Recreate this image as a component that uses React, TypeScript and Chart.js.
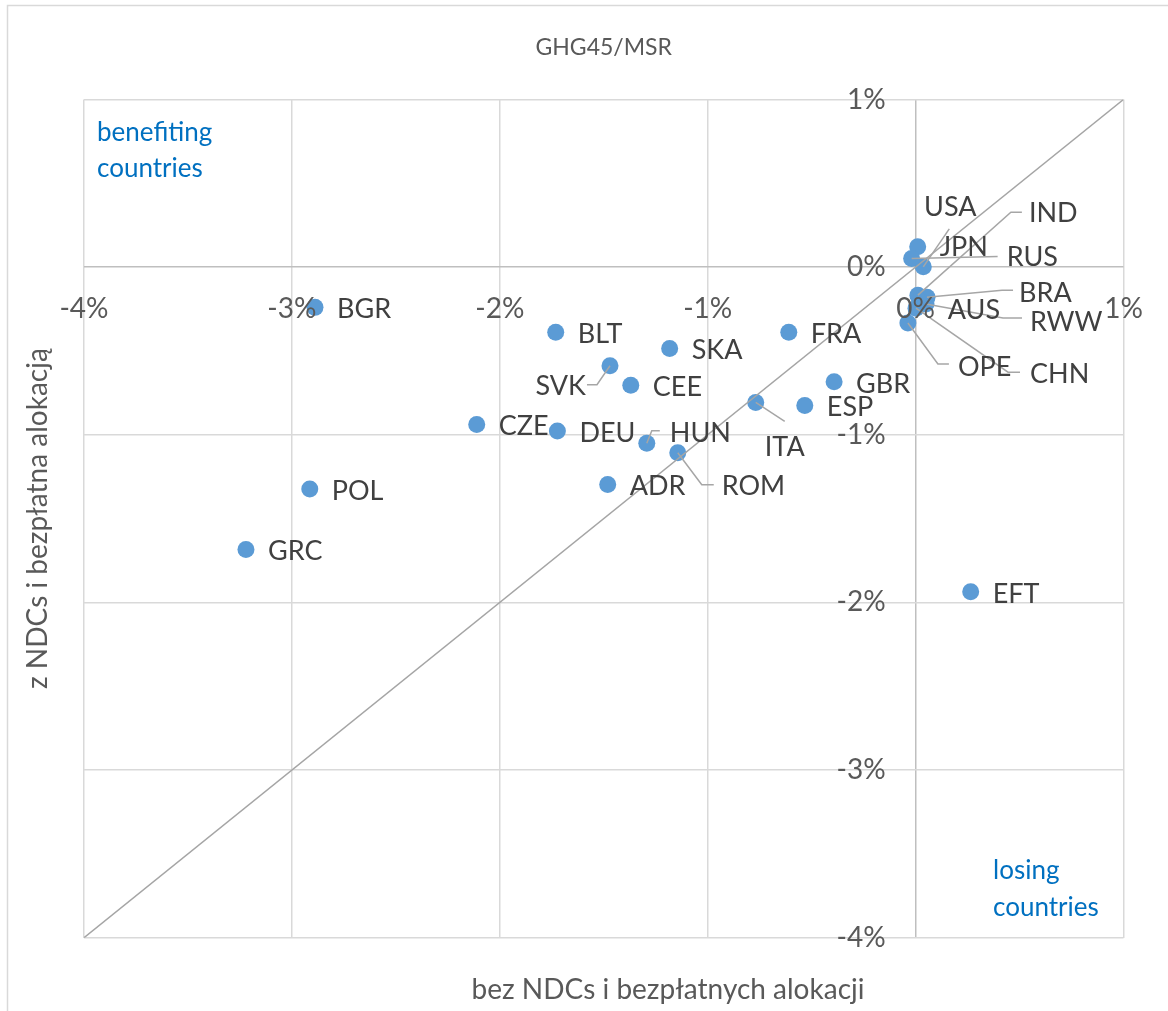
import React, { useEffect, useRef } from "react";
import { Chart, registerables } from "chart.js";

Chart.register(...registerables);

const chartTitle = "GHG45/MSR";
const xAxisTitle = "bez NDCs i bezpłatnych alokacji";
const yAxisTitle = "z NDCs i bezpłatna alokacją";
const benefitText = ["benefiting", "countries"];
const losingText = ["losing", "countries"];

const countries = [
  "BGR", "BLT", "SKA", "FRA", "SVK", "CEE", "GBR", "ITA", "ESP", "CZE", "DEU", "HUN", "ROM",
  "ADR", "POL", "GRC", "EFT", "USA", "JPN", "RUS", "IND", "BRA", "AUS", "RWW", "CHN", "OPE",
];
// % change without NDCs and free allocation
const xValues = [
  -2.889, -1.731, -1.183, -0.61, -1.47, -1.37, -0.392, -0.769, -0.533, -2.111, -1.723, -1.293, -1.144,
  -1.481, -2.914, -3.221, 0.265, 0.037, 0.01, -0.019, 0.011, 0.055, 0.02, 0.05, 0.002, -0.037,
];
// % change with NDCs and free allocation
const yValues = [
  -0.24, -0.389, -0.485, -0.389, -0.588, -0.705, -0.684, -0.807, -0.825, -0.938, -0.978, -1.051, -1.107,
  -1.296, -1.324, -1.684, -1.937, 0.002, 0.122, 0.052, -0.167, -0.179, -0.2, -0.22, -0.245, -0.333,
];

const axisMin = -4;
const axisMax = 1;
const tickStep = 1;
const diagonal = [axisMin, axisMax];

// label placement (pixel offsets from the point), align, and leader-line elbows
type LabelLayout = { dx: number; dy: number; align?: CanvasTextAlign; leader?: number[][] };
const labelLayout: Record<string, LabelLayout> = {
  SVK: { dx: -24, dy: 21, align: "right", leader: [[-13, 19], [-23, 19]] },
  ITA: { dx: 29, dy: 45, align: "center", leader: [[29, 19]] },
  HUN: { dx: 23, dy: -10, leader: [[5, -12.5], [13, -12.5]] },
  ROM: { dx: 44, dy: 34, leader: [[24, 32], [36, 32]] },
  USA: { dx: 27, dy: -60, align: "center", leader: [[26, -38]] },
  JPN: { dx: 22, dy: 1 },
  RUS: { dx: 95, dy: -1, leader: [[86, -2]] },
  IND: { dx: 111, dy: -82, leader: [[93, -83], [104, -83]] },
  BRA: { dx: 92, dy: -4, leader: [[75, -7], [86, -7]] },
  AUS: { dx: 28, dy: 10 },
  RWW: { dx: 104, dy: 18, leader: [[77, 14], [96, 14]] },
  CHN: { dx: 114, dy: 66, leader: [[92, 64], [104, 64]] },
  OPE: { dx: 50, dy: 44, leader: [[30, 41], [41, 41]] },
};

const FONT = 'Lato, "Open Sans", sans-serif';

const overlayPlugin = {
  id: "overlay",
  beforeDraw(chart: any) {
    const ctx = chart.ctx;
    ctx.save();
    ctx.fillStyle = "#ffffff";
    ctx.fillRect(0, 0, chart.width, chart.height);
    ctx.strokeStyle = "#d9d9d9";
    ctx.lineWidth = 1.5;
    ctx.strokeRect(7.5, 5.5, chart.width + 20, chart.height + 20);
    ctx.restore();
  },
  afterDatasetsDraw(chart: any) {
    const ctx = chart.ctx;
    const xs = chart.scales.x;
    const ys = chart.scales.y;
    const x0 = xs.getPixelForValue(0);
    const y0 = ys.getPixelForValue(0);
    ctx.save();

    // leader lines
    ctx.strokeStyle = "#a6a6a6";
    ctx.lineWidth = 1.5;
    countries.forEach((c, i) => {
      const lay = labelLayout[c];
      if (!lay || !lay.leader) return;
      const px = xs.getPixelForValue(xValues[i]);
      const py = ys.getPixelForValue(yValues[i]);
      ctx.beginPath();
      ctx.moveTo(px, py);
      lay.leader.forEach((p) => ctx.lineTo(px + p[0], py + p[1]));
      ctx.stroke();
    });

    // data labels
    ctx.fillStyle = "#404040";
    ctx.font = `27px ${FONT}`;
    ctx.textBaseline = "middle";
    countries.forEach((c, i) => {
      const lay = labelLayout[c] || { dx: 22, dy: 2 };
      const px = xs.getPixelForValue(xValues[i]);
      const py = ys.getPixelForValue(yValues[i]);
      ctx.textAlign = lay.align || "left";
      ctx.fillText(c, px + lay.dx, py + lay.dy);
    });

    // tick labels
    ctx.fillStyle = "#595959";
    ctx.font = `28px ${FONT}`;
    ctx.textAlign = "center";
    xs.ticks.forEach((t: any) => {
      ctx.fillText(`${t.value}%`, xs.getPixelForValue(t.value), y0 + 42);
    });
    ctx.textAlign = "right";
    ys.ticks.forEach((t: any) => {
      ctx.fillText(`${t.value}%`, x0 - 30, ys.getPixelForValue(t.value));
    });

    // titles
    ctx.textAlign = "center";
    ctx.font = `23px ${FONT}`;
    ctx.fillText(chartTitle, (chart.chartArea.left + chart.chartArea.right) / 2, 48);
    ctx.font = `28px ${FONT}`;
    ctx.fillText(xAxisTitle, 668, 990);
    ctx.save();
    ctx.translate(38, (chart.chartArea.top + chart.chartArea.bottom) / 2);
    ctx.rotate(-Math.PI / 2);
    ctx.fillText(yAxisTitle, 0, 0);
    ctx.restore();

    // annotations
    ctx.fillStyle = "#0070c0";
    ctx.font = `26px ${FONT}`;
    ctx.textAlign = "left";
    ctx.fillText(benefitText[0], 97, 133);
    ctx.fillText(benefitText[1], 97, 169);
    ctx.fillText(losingText[0], 993, 871);
    ctx.fillText(losingText[1], 993, 908);

    ctx.restore();
  },
};

export default function App() {
  const ref = useRef<HTMLCanvasElement>(null);
  useEffect(() => {
    if (!ref.current) return;
    const points = countries.map((c, i) => ({ x: xValues[i], y: yValues[i] }));
    const gridColor = (ctx: any) => (ctx.tick && ctx.tick.value === 0 ? "#bfbfbf" : "#d9d9d9");
    const chart = new Chart(ref.current, {
      type: "scatter",
      data: {
        datasets: [
          {
            type: "line",
            data: diagonal.map((v) => ({ x: v, y: v })),
            borderColor: "#a5a5a5",
            borderWidth: 1.5,
            pointRadius: 0,
            fill: false,
          } as any,
          {
            data: points,
            backgroundColor: "#5b9bd5",
            borderColor: "#5b9bd5",
            pointRadius: 8.5,
            borderWidth: 0,
          },
        ],
      },
      options: {
        responsive: false,
        animation: false,
        events: [],
        layout: { padding: { left: 84, top: 99.5, right: 44.5, bottom: 73.3 } },
        plugins: { legend: { display: false }, tooltip: { enabled: false }, title: { display: false } },
        scales: {
          x: {
            type: "linear",
            min: axisMin,
            max: axisMax,
            ticks: { display: false, stepSize: tickStep },
            grid: { color: gridColor, lineWidth: 1.5, drawTicks: false },
            border: { display: false },
            afterFit: (s: any) => { s.height = 0; },
          },
          y: {
            type: "linear",
            min: axisMin,
            max: axisMax,
            ticks: { display: false, stepSize: tickStep },
            grid: { color: gridColor, lineWidth: 1.5, drawTicks: false },
            border: { display: false },
            afterFit: (s: any) => { s.width = 0; },
          },
        },
      },
      plugins: [overlayPlugin],
    });
    return () => chart.destroy();
  }, []);
  return (
    <div style={{ position: "absolute", left: 0, top: 0, width: 1168, height: 1011 }}>
      <canvas ref={ref} width={1168} height={1011} style={{ display: "block" }} />
    </div>
  );
}
